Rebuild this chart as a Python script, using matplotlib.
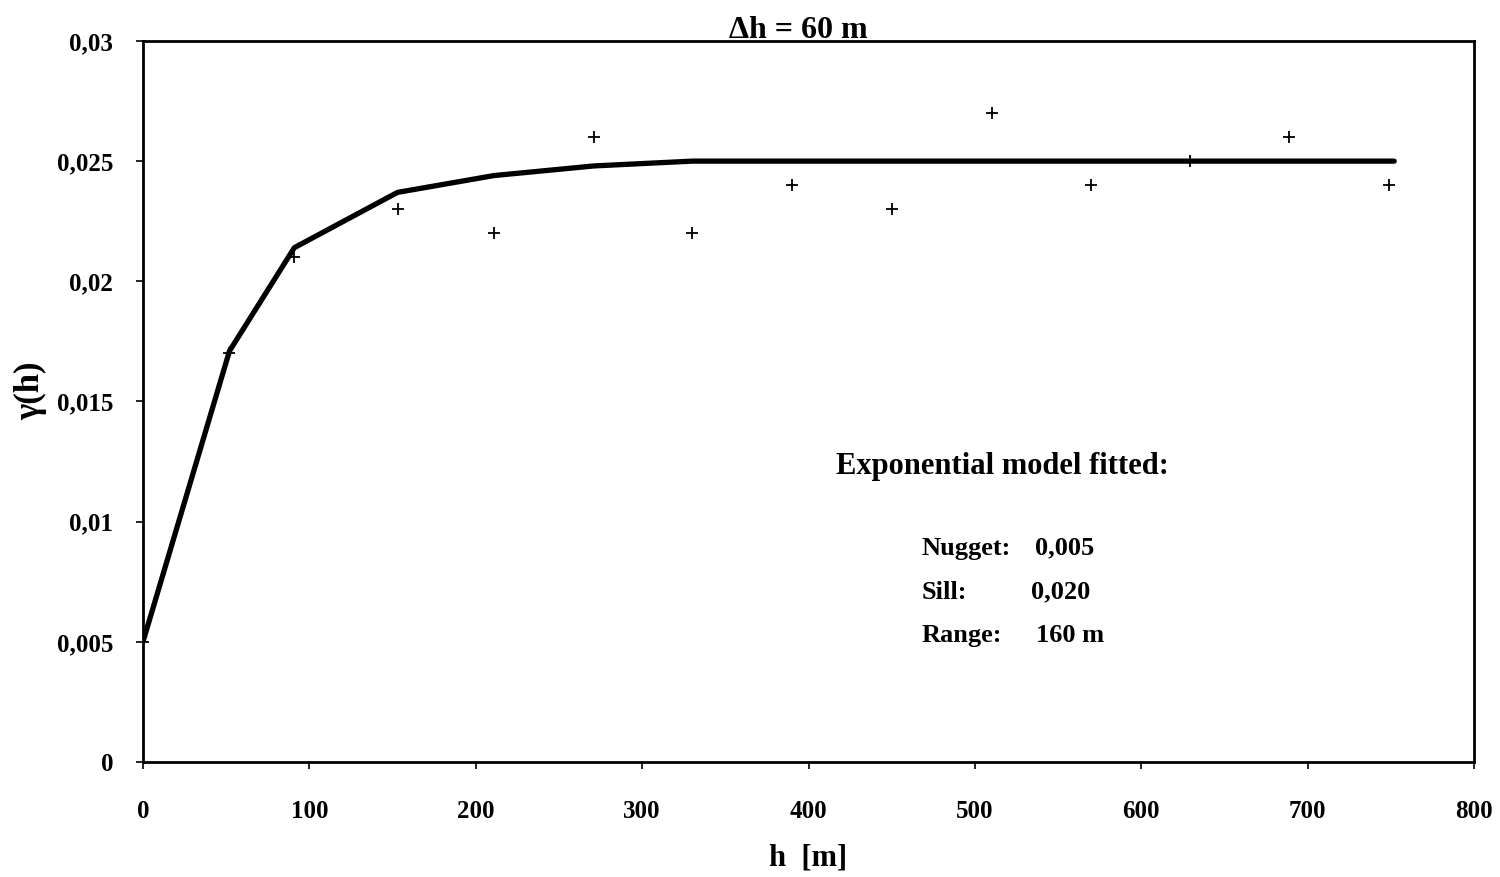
import matplotlib
matplotlib.use("Agg")
import matplotlib.pyplot as plt

plt.rcParams['font.family'] = ['Liberation Serif', 'DejaVu Serif']
plt.rcParams['font.weight'] = 'bold'

# experimental variogram (lag distance h, semivariance)
h_lag = [0, 52, 91, 153, 211, 271, 330, 390, 450, 510, 570, 629, 689, 749]
gamma_exp = [0.005, 0.017, 0.021, 0.023, 0.022, 0.026, 0.022, 0.024,
             0.023, 0.027, 0.024, 0.025, 0.026, 0.024]

# fitted exponential model at the same lags
h_model = [0, 52, 91, 153, 211, 271, 330, 390, 450, 510, 570, 629, 689, 752]
gamma_model = [0.0050, 0.0171, 0.0214, 0.0237, 0.0244, 0.0248, 0.0250, 0.0250,
               0.0250, 0.0250, 0.0250, 0.0250, 0.0250, 0.0250]

x_ticks = [0, 100, 200, 300, 400, 500, 600, 700, 800]
y_ticks = [0, 0.005, 0.01, 0.015, 0.02, 0.025, 0.03]
y_tick_labels = ['0', '0,005', '0,01', '0,015', '0,02', '0,025', '0,03']

fig = plt.figure(figsize=(15, 8.77), dpi=100)
ax = fig.add_axes([0.0953, 0.1311, 0.8874, 0.8222])

ax.plot(h_model, gamma_model, color='black', lw=3.8, solid_capstyle='round', zorder=2)
ax.plot(h_lag, gamma_exp, ls='none', marker='+', ms=9, mew=1.3, color='black', zorder=3)

ax.set_xlim(0, 800)
ax.set_ylim(0, 0.03)
ax.set_xticks(x_ticks)
ax.set_yticks(y_ticks)
ax.set_yticklabels(y_tick_labels)
ax.tick_params(axis='x', direction='out', length=5, width=1.2, pad=22, labelsize=18)
ax.tick_params(axis='y', direction='out', length=5, width=1.2, pad=16.5, labelsize=18)
for lab in ax.get_xticklabels() + ax.get_yticklabels():
    lab.set_fontweight('bold')
for sp in ax.spines.values():
    sp.set_linewidth(2)

ax.set_xlabel('h  [m]', fontsize=22, fontweight='bold', va='center')
ax.xaxis.set_label_coords(0.5, -0.133)
ax.set_ylabel('γ(h)', fontsize=25, fontweight='bold', va='center')
ax.yaxis.set_label_coords(-0.084, 0.515)
ax.text(0.492, 1.004, 'Δh = 60 m', transform=ax.transAxes, ha='center', va='baseline',
        fontsize=23, fontweight='bold')

ax.text(0.5207, 0.41, 'Exponential model fitted:', transform=ax.transAxes,
        fontsize=22, fontweight='bold', va='center')

# model parameters
param_names = ['Nugget:', 'Sill:', 'Range:']
param_values = ['0,005', '0,020', '160 m']
param_y = [0.2964, 0.2355, 0.1759]
param_x = [0.6705, 0.6675, 0.6712]
for name, val, y, xv in zip(param_names, param_values, param_y, param_x):
    ax.text(0.585, y, name, transform=ax.transAxes, fontsize=19,
            fontweight='bold', va='center')
    ax.text(xv, y, val, transform=ax.transAxes, fontsize=19,
            fontweight='bold', va='center')

fig.savefig('out.png', dpi=100)
